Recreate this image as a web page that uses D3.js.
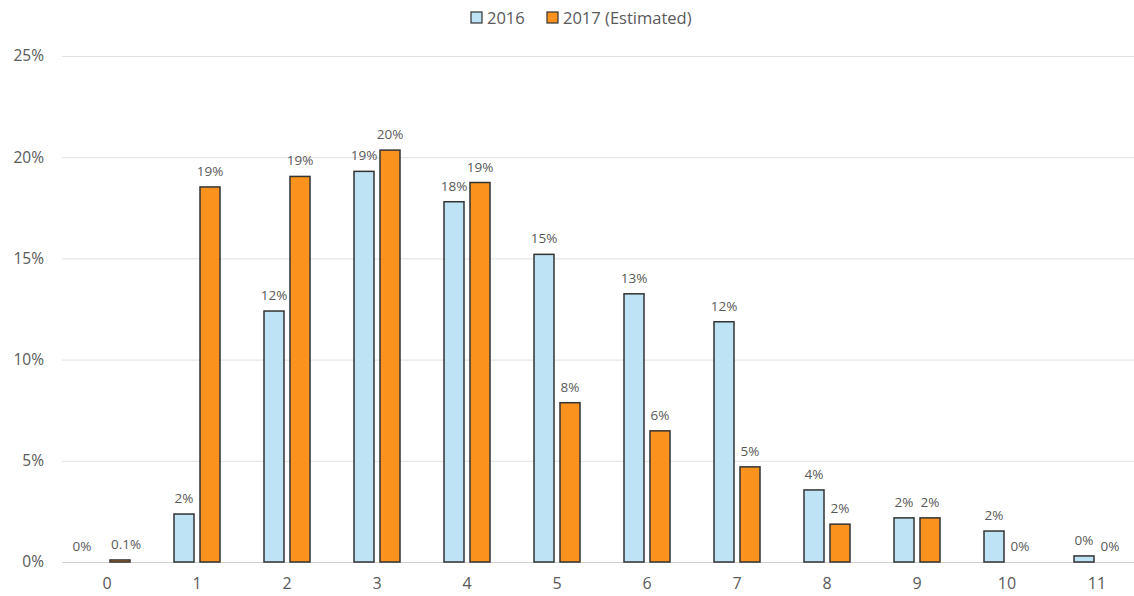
<!DOCTYPE html>
<html>
<head>
<meta charset="utf-8">
<script src="https://cdn.jsdelivr.net/npm/d3@7"></script>
<style>
  body { margin: 0; background: #fff; }
  svg { font-family: "Open Sans", "Noto Sans", sans-serif; }
</style>
</head>
<body>
<svg width="1134" height="596"></svg>
<script>
// categories along the bottom
const categories = ["0", "1", "2", "3", "4", "5", "6", "7", "8", "9", "10", "11"]
// values in percent
const values2016 = [0, 2.37, 12.4, 19.3, 17.8, 15.2, 13.25, 11.87, 3.56, 2.18, 1.53, 0.3]
const values2017 = [0.1, 18.53, 19.05, 20.35, 18.75, 7.87, 6.48, 4.7, 1.87, 2.18, 0, 0]
const labels2016 = ["0%", "2%", "12%", "19%", "18%", "15%", "13%", "12%", "4%", "2%", "2%", "0%"]
const labels2017 = ["0.1%", "19%", "19%", "20%", "19%", "8%", "6%", "5%", "2%", "2%", "0%", "0%"]
const yTicks = [0, 5, 10, 15, 20, 25]
const seriesNames = ["2016", "2017 (Estimated)"]
const colors = ["#bde3f5", "#fb921e"]

const svg = d3.select("svg")

// scales
xScale = d3.scaleBand().domain(categories).range([62, 1142]).paddingInner(0).paddingOuter(0)
yScale = d3.scaleLinear().domain([0, 25]).range([562, 56])

// gridlines
svg.append("g")
    .selectAll("line")
    .data(yTicks)
    .enter()
    .append("line")
    .attr("x1", 62)
    .attr("x2", 1134)
    .attr("y1", d => yScale(d) + 0.5)
    .attr("y2", d => yScale(d) + 0.5)
    .attr("stroke", d => d == 0 ? "#d0d0d0" : "#e0e0e0")
    .attr("stroke-width", 1)

// y axis
yAxis = d3.axisLeft(yScale).tickValues(yTicks).tickFormat(d => d + "%").tickSize(0).tickPadding(0)
let gy = svg.append("g")
    .attr("transform", "translate(44,0)")
    .call(yAxis)
gy.select(".domain").remove()
gy.selectAll("text")
    .attr("fill", "#595959")
    .attr("font-size", "15.5px")
    .attr("font-family", "'Open Sans', sans-serif")

// x axis
xAxis = d3.axisBottom(xScale).tickSize(0).tickPadding(0)
let gx = svg.append("g")
    .attr("transform", "translate(0,578)")
    .call(xAxis)
gx.select(".domain").remove()
gx.selectAll("text")
    .attr("fill", "#595959")
    .attr("font-size", "16px")
    .attr("font-family", "'Open Sans', sans-serif")

// bars
const barW = 20, offset = 13
const series = [values2016, values2017]
const labelSets = [labels2016, labels2017]

series.forEach((vals, s) => {
    const dx = s == 0 ? -offset : offset
    const g = svg.append("g")
    g.selectAll("rect")
        .data(vals.map((v, i) => ({cat: categories[i], v: v})))
        .enter()
        .filter(d => d.v > 0)
        .append("rect")
        .attr("x", d => xScale(d.cat) + xScale.bandwidth() / 2 + dx - barW / 2)
        .attr("y", d => yScale(d.v))
        .attr("width", barW)
        .attr("height", d => yScale(0) - yScale(d.v))
        .attr("fill", colors[s])
        .attr("stroke", "#333")
        .attr("stroke-width", 1.5)

    // labels of tiny bars sitting side by side get pushed apart a bit
    g.selectAll("text")
        .data(vals.map((v, i) => ({cat: categories[i], v: v, label: labelSets[s][i], i: i})))
        .enter()
        .append("text")
        .attr("x", d => {
            let nudge = 0
            if (values2016[d.i] < 0.5 && values2017[d.i] < 0.5 && values2016[d.i] != values2017[d.i] && d.i == 0)
                nudge = s == 0 ? -12 : 6
            return xScale(d.cat) + xScale.bandwidth() / 2 + dx + nudge
        })
        .attr("y", d => yScale(d.v) - 11)
        .attr("text-anchor", "middle")
        .attr("fill", "#595959")
        .attr("font-size", "13.5px")
        .text(d => d.label)
})

// legend
const legend = svg.append("g")
const legendX = [471, 547]
seriesNames.forEach((name, i) => {
    legend.append("rect")
        .attr("x", legendX[i])
        .attr("y", 12)
        .attr("width", 11)
        .attr("height", 11)
        .attr("fill", colors[i])
        .attr("stroke", "#333")
        .attr("stroke-width", 1.2)
    legend.append("text")
        .attr("x", legendX[i] + 16)
        .attr("y", 24)
        .attr("fill", "#595959")
        .attr("font-size", "16.5px")
        .text(name)
})
</script>
</body>
</html>
